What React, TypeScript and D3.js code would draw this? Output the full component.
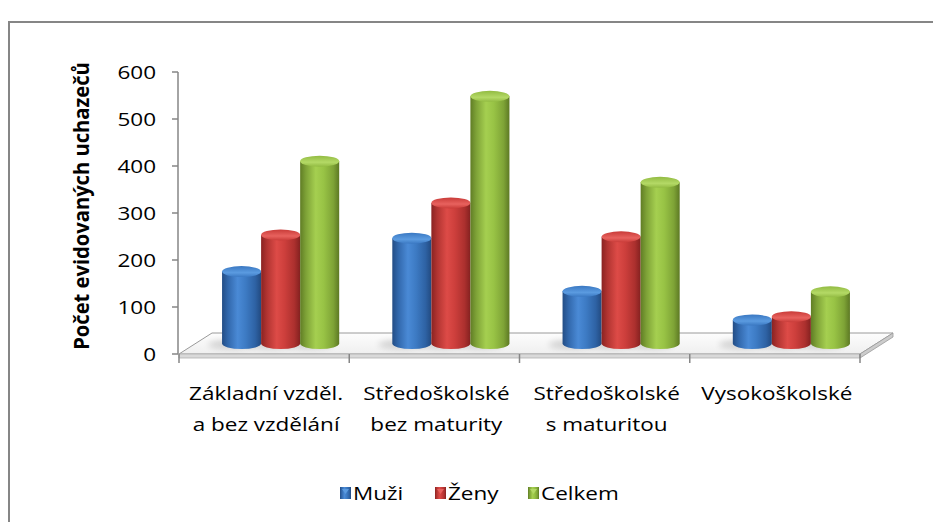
import React from 'react';
import * as d3 from 'd3';

const categories: string[][] = [
  ['Základní vzděl.', 'a bez vzdělání'],
  ['Středoškolské', 'bez maturity'],
  ['Středoškolské', 's maturitou'],
  ['Vysokoškolské'],
];
const seriesNames = ['Muži', 'Ženy', 'Celkem'];
const muzi = [153, 224, 111, 50];
const zeny = [231, 299, 227, 57];
const celkem = [388, 526, 343, 110];
const yTicks = [0, 100, 200, 300, 400, 500, 600];
const axisTitle = 'Počet evidovaných uchazečů';

const seriesValues = [muzi, zeny, celkem];

const palette = [
  { id: 'blue', stops: ['#234d85', '#3167ab', '#4a8ad6', '#3d7bc4', '#2e62a4', '#224a80'], top: ['#5b9be0', '#3a78c2'] },
  { id: 'red', stops: ['#8a2322', '#b13431', '#dd4b47', '#cd3f3c', '#ac302e', '#842120'], top: ['#e8625e', '#c83b38'] },
  { id: 'green', stops: ['#607d25', '#7ea237', '#a5cf50', '#98c345', '#7ea336', '#5d7924'], top: ['#b4d966', '#92bb42'] },
];

const FONT = '"Open Sans", sans-serif';
const SX = 1.25; // horizontal stretch of the original rendering

const Txt: React.FC<{ x: number; y: number; anchor?: string; size?: number; weight?: string | number; children: React.ReactNode }> = ({
  x, y, anchor = 'middle', size = 18, weight = 'normal', children,
}) => (
  <text
    transform={`translate(${x},${y}) scale(${SX},1)`}
    textAnchor={anchor}
    fontFamily={FONT}
    fontSize={size}
    fontWeight={weight}
    fill="#000"
  >
    {children}
  </text>
);

const App: React.FC = () => {
  const width = 933;
  const height = 522;
  const x0 = 179;
  const x1 = 860;
  const y0 = 354;
  const yTop = 72;
  const depthX = 33;
  const depthY = -21;
  const midX = depthX / 2;
  const midY = depthY / 2;

  const xScale = d3.scaleBand<number>()
    .domain(categories.map((_, i) => i))
    .range([x0, x1]);

  const xSub = d3.scaleBand<number>()
    .domain(seriesNames.map((_, i) => i))
    .range([0, xScale.bandwidth()])
    .paddingInner(0)
    .paddingOuter(0.68);

  const yScale = d3.scaleLinear().domain([0, 600]).range([y0, yTop]);

  const rx = xSub.bandwidth() / 2;
  const ry = 5.5;
  const slab = 4;

  const floorTop = `M${x0},${y0} L${x1},${y0} L${x1 + depthX},${y0 + depthY} L${x0 + depthX},${y0 + depthY} Z`;
  const floorFront = `M${x0},${y0} L${x1},${y0} L${x1},${y0 + slab} L${x0},${y0 + slab} Z`;
  const floorSide = `M${x1},${y0} L${x1 + depthX},${y0 + depthY} L${x1 + depthX},${y0 + depthY + slab} L${x1},${y0 + slab} Z`;

  const boundaries = d3.range(categories.length + 1).map(i => (i < categories.length ? xScale(i)! : x1));

  return (
    <svg width={width} height={height} style={{ position: 'absolute', left: 0, top: 0, background: '#fff' }}>
      <defs>
        {palette.map(p => (
          <linearGradient key={p.id} id={`body-${p.id}`} x1="0" x2="1" y1="0" y2="0">
            {p.stops.map((c, i) => (
              <stop key={i} offset={`${[0, 15, 40, 60, 85, 100][i]}%`} stopColor={c} />
            ))}
          </linearGradient>
        ))}
        {palette.map(p => (
          <linearGradient key={p.id} id={`top-${p.id}`} x1="0" x2="0" y1="0" y2="1">
            <stop offset="0%" stopColor={p.top[1]} />
            <stop offset="60%" stopColor={p.top[0]} />
            <stop offset="100%" stopColor={p.top[1]} />
          </linearGradient>
        ))}
        <linearGradient id="floor" x1="0" x2="0" y1="0" y2="1">
          <stop offset="0%" stopColor="#fdfdfd" />
          <stop offset="100%" stopColor="#efefef" />
        </linearGradient>
        <filter id="blur" x="-50%" y="-200%" width="200%" height="500%">
          <feGaussianBlur stdDeviation="3" />
        </filter>
      </defs>

      {/* outer border */}
      <rect x={9} y={22} width={1000} height={1000} fill="none" stroke="#868686" strokeWidth={2} />

      {/* floor */}
      <path d={floorTop} fill="url(#floor)" stroke="#9a9a9a" strokeWidth={1} />
      <path d={floorFront} fill="#d9d9d9" stroke="#b0b0b0" strokeWidth={0.8} />
      <path d={floorSide} fill="#cccccc" stroke="#9a9a9a" strokeWidth={0.8} />

      {/* value axis */}
      <line x1={x0 - 1} x2={x0 - 1} y1={yTop} y2={y0} stroke="#868686" strokeWidth={1.5} />
      {yTicks.map(t => (
        <g key={t}>
          <line x1={x0 - 7} x2={x0 - 1} y1={yScale(t)} y2={yScale(t)} stroke="#868686" strokeWidth={1.5} />
          <Txt x={x0 - 23} y={yScale(t) + 6.5} anchor="end">{t}</Txt>
        </g>
      ))}

      {/* category ticks */}
      {boundaries.map((bx, i) => (
        <line key={i} x1={bx} x2={bx} y1={y0} y2={y0 + 9} stroke="#868686" strokeWidth={1.5} />
      ))}

      {/* shadows */}
      {categories.map((_, ci) => (
        <g key={ci}>
          {seriesValues.map((vals, si) => {
            const cx = xScale(ci)! + xSub(si)! + rx + midX;
            return (
              <ellipse key={si} cx={cx - 10} cy={y0 + midY + 1} rx={rx + 4} ry={4}
                fill="#000" opacity={0.16} filter="url(#blur)" />
            );
          })}
        </g>
      ))}

      {/* cylinders */}
      {categories.map((_, ci) => (
        <g key={ci}>
          {seriesValues.map((vals, si) => {
            const p = palette[si];
            const cx = xScale(ci)! + xSub(si)! + rx + midX;
            const base = yScale(0) + midY;
            const top = yScale(vals[ci]) + midY;
            const body = `M${cx - rx},${top} L${cx - rx},${base} A${rx},${ry} 0 0 0 ${cx + rx},${base} L${cx + rx},${top} Z`;
            return (
              <g key={si}>
                <path d={body} fill={`url(#body-${p.id})`} />
                <ellipse cx={cx} cy={top} rx={rx} ry={ry} fill={`url(#top-${p.id})`} />
              </g>
            );
          })}
        </g>
      ))}

      {/* category labels */}
      {categories.map((lines, ci) => (
        <g key={ci}>
          {lines.map((l, li) => (
            <Txt key={li} x={xScale(ci)! + xScale.bandwidth() / 2 + 2} y={400 + li * 31}>{l}</Txt>
          ))}
        </g>
      ))}

      {/* axis title */}
      <text
        transform={`translate(89,206) rotate(-90) scale(1.12,1.2)`}
        textAnchor="middle"
        fontFamily={FONT}
        fontSize={18}
        fontWeight="bold"
        fill="#000"
      >
        {axisTitle}
      </text>

      {/* legend */}
      {seriesNames.map((name, i) => {
        const lx = [340, 435, 528][i];
        return (
          <g key={name}>
            <rect x={lx} y={487} width={11} height={12} fill={`url(#body-${palette[i].id})`} />
            <path d={`M${lx + 2},${489} L${lx + 9},${489} L${lx + 5.5},${494} Z`} fill={palette[i].top[0]} />
            <Txt x={lx + 13} y={500} anchor="start">{name}</Txt>
          </g>
        );
      })}
    </svg>
  );
};

export default App;
